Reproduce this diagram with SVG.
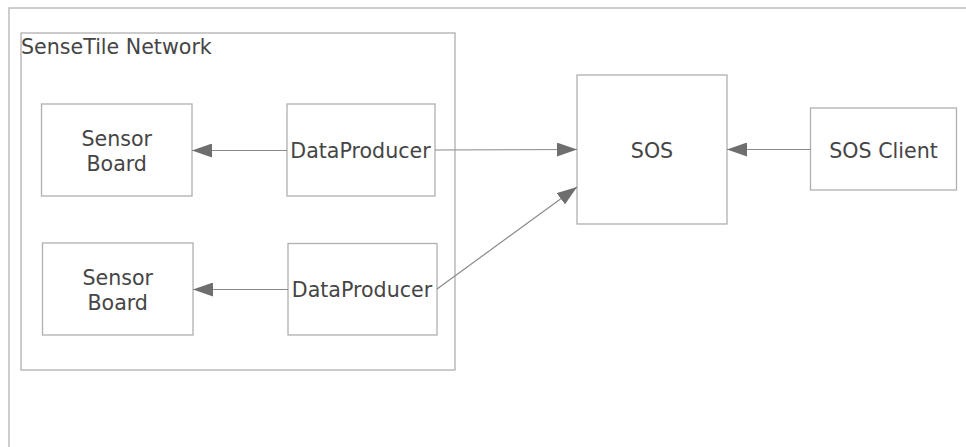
<svg xmlns="http://www.w3.org/2000/svg" width="966" height="447" viewBox="0 0 966 447">
  <style>
    .frame { fill: none; stroke: #bdbdbd; stroke-width: 1.5; }
    .box { fill: #ffffff; stroke: #b0b0b0; stroke-width: 1.3; }
    .group { fill: none; stroke: #b0b0b0; stroke-width: 1.3; }
    .lbl { font-family: "DejaVu Sans", Verdana, sans-serif; font-size: 20.6px; fill: #454545; text-anchor: middle; }
    .title { font-family: "DejaVu Sans", Verdana, sans-serif; font-size: 20.6px; fill: #454545; }
    .conn { fill: none; stroke: #8a8a8a; stroke-width: 1.2; }
  </style>
  <defs>
    <marker id="arrow" viewBox="0 0 20 14" refX="20" refY="7" markerWidth="20" markerHeight="14" markerUnits="userSpaceOnUse" orient="auto">
      <path d="M0,0 L20,7 L0,14 Z" fill="#6e6e6e"/>
    </marker>
  </defs>
  <rect width="966" height="447" fill="#ffffff"/>

  <!-- outer frame, only the top and left edges fall inside the view -->
  <path class="frame" d="M9,447 V8 H966"/>

  <g id="sensetile-network">
    <rect class="group" x="21" y="33" width="434" height="337"/>
    <text class="title" x="21" y="54">SenseTile Network</text>
  </g>

  <g id="sensor-board-1">
    <rect class="box" x="41.5" y="104" width="150.5" height="92"/>
    <text class="lbl" x="116.7" y="146">Sensor</text>
    <text class="lbl" x="116.7" y="170.5">Board</text>
  </g>

  <g id="dataproducer-1">
    <rect class="box" x="287" y="104" width="148" height="92"/>
    <text class="lbl" x="360.5" y="158">DataProducer</text>
  </g>

  <g id="sensor-board-2">
    <rect class="box" x="42.5" y="243" width="150.5" height="92"/>
    <text class="lbl" x="117.7" y="285">Sensor</text>
    <text class="lbl" x="117.7" y="309.5">Board</text>
  </g>

  <g id="dataproducer-2">
    <rect class="box" x="288" y="243.5" width="149" height="91.5"/>
    <text class="lbl" x="362" y="297">DataProducer</text>
  </g>

  <g id="sos">
    <rect class="box" x="577" y="75" width="150" height="149"/>
    <text class="lbl" x="652" y="158">SOS</text>
  </g>

  <g id="sos-client">
    <rect class="box" x="810.5" y="108" width="146" height="82"/>
    <text class="lbl" x="883.5" y="158">SOS Client</text>
  </g>

  <g id="connectors">
    <line class="conn" x1="287" y1="150.5" x2="192" y2="150.5" marker-end="url(#arrow)"/>
    <line class="conn" x1="288" y1="289.5" x2="193" y2="289.5" marker-end="url(#arrow)"/>
    <line class="conn" x1="435" y1="150" x2="577" y2="149.5" marker-end="url(#arrow)"/>
    <line class="conn" x1="437" y1="289" x2="577" y2="187" marker-end="url(#arrow)"/>
    <line class="conn" x1="810.5" y1="149.5" x2="727" y2="149.5" marker-end="url(#arrow)"/>
  </g>
</svg>
